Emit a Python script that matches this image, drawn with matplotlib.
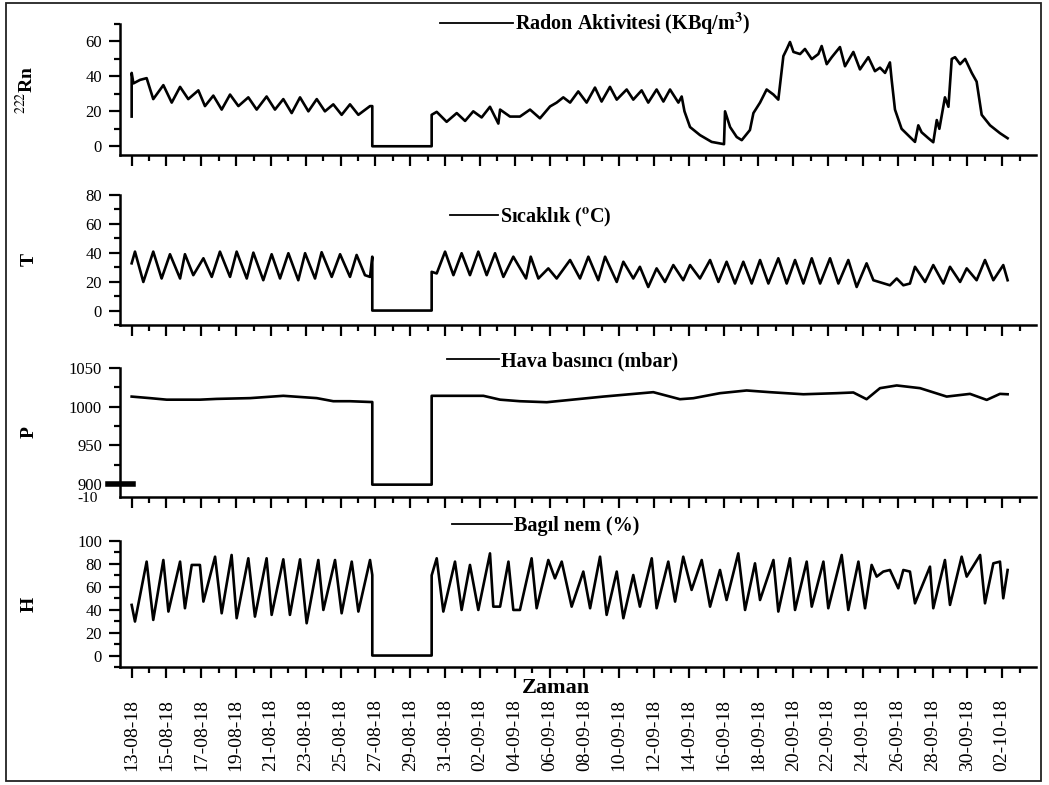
import matplotlib
matplotlib.use('Agg')
import matplotlib.pyplot as plt
import numpy as np
import pandas as pd
from matplotlib.ticker import MultipleLocator
from matplotlib.lines import Line2D
from matplotlib.patches import Rectangle
import matplotlib.transforms as mtransforms

plt.rcParams['font.family'] = 'Liberation Serif'
plt.rcParams['mathtext.fontset'] = 'stix'

# ---- data (days since 13-08-18) ----
start_date = '13-08-18'
tick_labels = ['13-08-18', '15-08-18', '17-08-18', '19-08-18', '21-08-18', '23-08-18',
               '25-08-18', '27-08-18', '29-08-18', '31-08-18', '02-09-18', '04-09-18',
               '06-09-18', '08-09-18', '10-09-18', '12-09-18', '14-09-18', '16-09-18',
               '18-09-18', '20-09-18', '22-09-18', '24-09-18', '26-09-18', '28-09-18',
               '30-09-18', '02-10-18']

rn_day = [0.00, 0.00, 0.10, 0.48, 0.86, 1.24, 1.82, 2.30, 2.78, 3.25, 3.83, 4.21, 4.69, 5.17,
          5.65, 6.13, 6.70, 7.18, 7.75, 8.23, 8.71, 9.19, 9.67, 10.15, 10.63, 11.10, 11.58,
          12.06, 12.54, 13.02, 13.69, 13.82, 13.82, 17.23, 17.23, 17.52, 18.09, 18.67, 19.15,
          19.62, 20.10, 20.58, 21.06, 21.16, 21.73, 22.30, 22.88, 23.45, 24.03, 24.41, 24.79,
          25.18, 25.65, 26.13, 26.61, 26.99, 27.47, 27.86, 28.43, 28.81, 29.29, 29.67, 30.15,
          30.54, 30.92, 31.40, 31.59, 31.75, 32.07, 32.64, 33.31, 34.02, 34.08, 34.37, 34.75,
          35.04, 35.51, 35.71, 36.09, 36.47, 36.86, 37.14, 37.43, 37.63, 37.81, 38.01, 38.39,
          38.67, 39.06, 39.44, 39.63, 39.92, 40.21, 40.68, 40.97, 41.45, 41.83, 42.31, 42.69,
          42.98, 43.27, 43.55, 43.65, 43.84, 44.22, 44.70, 44.99, 45.18, 45.37, 45.76, 46.04,
          46.24, 46.39, 46.71, 46.91, 47.10, 47.29, 47.58, 47.87, 48.25, 48.53, 48.82, 49.30,
          49.87, 50.31]
rn_val = [17, 42, 36, 38, 39, 27, 35, 25, 34, 27, 32, 23, 29, 21,
          29.6, 23, 28, 21, 28.5, 21, 27, 19, 28, 20, 27, 20, 24,
          18, 24, 18, 23, 23, 0, 0, 18, 19.7, 14, 19, 14.5,
          20, 16.5, 22.6, 13, 21, 17, 17, 21, 16, 22.8, 25, 28,
          25, 31.4, 25, 33.6, 25.6, 34, 26.7, 32.5, 26.7, 32, 25, 32.5,
          25.6, 32.5, 25, 28.5, 20, 11, 6.4, 2.5, 1.2, 20, 11, 5.3,
          3.5, 9.3, 19, 25, 32.5, 29.6, 26.7, 51.6, 55.7, 59.7, 54, 52.8,
          55.7, 49.9, 52.8, 57.4, 47, 51, 56.8, 45.8, 54, 44, 51, 43,
          45, 42, 48, 38, 21, 10, 5.3, 2.5, 12, 8, 4.6, 2.3,
          15, 10, 28, 22.6, 50, 51, 47, 50, 42, 37, 18, 12,
          7.5, 4.6]

t_day = [0.00, 0.19, 0.67, 1.24, 1.72, 2.20, 2.78, 3.06, 3.54, 4.12, 4.60, 5.07, 5.65, 6.03,
         6.61, 6.99, 7.56, 8.04, 8.52, 9.00, 9.57, 9.96, 10.53, 10.91, 11.49, 11.97, 12.54,
         12.92, 13.40, 13.69, 13.82, 13.82, 17.23, 17.23, 17.52, 18.00, 18.48, 18.95, 19.43,
         19.91, 20.39, 20.87, 21.35, 21.92, 22.65, 22.92, 23.36, 23.93, 24.41, 25.18, 25.75,
         26.23, 26.80, 27.19, 27.86, 28.24, 28.81, 29.19, 29.67, 30.15, 30.63, 31.11, 31.68,
         32.07, 32.64, 33.22, 33.70, 34.17, 34.65, 35.13, 35.61, 36.09, 36.57, 37.14, 37.62,
         38.10, 38.58, 39.06, 39.54, 40.11, 40.59, 41.16, 41.64, 42.21, 42.60, 43.55, 43.94,
         44.32, 44.70, 44.99, 45.57, 46.04, 46.62, 47.00, 47.58, 47.96, 48.53, 49.01, 49.49,
         50.06, 50.31]
t_val = [32.7, 40.8, 19.8, 40.8, 22.2, 39, 22.2, 39, 24.5, 36.2, 23.3, 40.8, 23.3, 40.8,
         22.2, 40.1, 21, 39, 22.2, 39.7, 21, 39.7, 22.2, 40.4, 23.3, 39, 23.3,
         38.5, 24.5, 23.3, 37.3, 0, 0, 26.8, 25.7, 40.8, 24.5, 39.7, 24.5,
         40.8, 24.5, 39.7, 23.3, 37.3, 22.2, 37.3, 22.2, 29.2, 22.2, 35, 22.2,
         37.3, 21, 37.3, 19.8, 33.8, 22.2, 30.3, 16.3, 29.2, 19.8, 31.5, 21,
         31.5, 22.2, 35, 19.8, 33.8, 18.7, 33.8, 18.7, 35, 18.7, 36.2, 18.7,
         35, 18.7, 36.2, 18.7, 36.2, 18.7, 35, 16.3, 32.7, 21, 17.5, 22.2,
         17.5, 18.7, 30.3, 19.8, 31.5, 18.7, 30.3, 19.8, 29.2, 21, 35, 21,
         31.5, 21]

p_day = [0.00, 1.05, 2.01, 3.92, 4.88, 6.80, 8.71, 10.63, 11.58, 12.54, 13.69, 13.82, 13.82,
         17.23, 17.23, 19.24, 20.20, 21.16, 22.30, 23.84, 25.18, 27.09, 29.96, 30.92, 31.49,
         32.26, 33.79, 35.32, 36.66, 38.58, 40.49, 41.45, 42.21, 42.98, 43.94, 45.28, 46.81,
         48.15, 49.11, 49.87, 50.31]
p_val = [1013, 1011, 1009, 1009, 1010, 1011, 1014, 1011, 1007, 1007, 1006, 1006, 899,
         899, 1014, 1014, 1014, 1009, 1007, 1005.7, 1008.7, 1013, 1018.7, 1013, 1009.6,
         1010.9, 1017.4, 1020.9, 1018.7, 1016, 1017.4, 1018.3, 1009.6, 1023.9, 1027.4, 1023.9, 1013,
         1016.5, 1008.7, 1016.5, 1016]

h_day = [0.00, 0.19, 0.86, 1.24, 1.82, 2.11, 2.78, 3.06, 3.45, 3.92, 4.12, 4.79, 5.17, 5.74,
         6.03, 6.70, 7.08, 7.75, 8.04, 8.71, 9.09, 9.67, 10.05, 10.72, 11.01, 11.68, 12.06,
         12.64, 13.02, 13.69, 13.82, 13.82, 17.23, 17.23, 17.52, 17.90, 18.57, 18.95, 19.43,
         19.91, 20.58, 20.77, 21.16, 21.64, 21.92, 22.30, 22.97, 23.26, 23.93, 24.31, 24.70,
         25.27, 25.94, 26.33, 26.90, 27.28, 27.86, 28.24, 28.81, 29.19, 29.87, 30.15, 30.82,
         31.21, 31.68, 32.16, 32.74, 33.22, 33.79, 34.17, 34.84, 35.23, 35.80, 36.09, 36.86,
         37.14, 37.81, 38.10, 38.77, 39.06, 39.73, 40.01, 40.78, 41.16, 41.74, 42.12, 42.50,
         42.79, 43.17, 43.55, 44.03, 44.32, 44.70, 44.99, 45.85, 46.04, 46.71, 47.00, 47.67,
         47.96, 48.73, 49.01, 49.49, 49.87, 50.06, 50.31]
h_val = [44.2, 29.7, 82, 31.1, 83.4, 38.4, 82, 41.3, 79.1, 79.1, 47.1, 86.3, 36.9, 87.8,
         32.6, 84.9, 34, 84.9, 35.5, 84, 35.5, 84, 28.2, 83.4, 39.8, 83.4, 36.9,
         82, 38.4, 83.4, 70.3, 0, 0, 70, 84.9, 38.4, 82, 39.8, 79.1,
         39.8, 89.2, 42.7, 42.7, 82, 39.8, 39.8, 84.9, 41.3, 83.4, 67.4, 82,
         42.7, 73.3, 41.3, 86.3, 35.5, 73.3, 32.6, 70.3, 42.7, 84.9, 41.3, 82,
         47.1, 86.3, 57.3, 83.4, 42.7, 74.7, 48.5, 89.2, 39.8, 80.5, 48.5, 83.4,
         38.4, 84.9, 39.8, 82, 42.7, 82, 41.3, 87.8, 39.8, 82, 41.3, 79.1,
         68.9, 73.3, 74.7, 58.7, 74.7, 73.3, 45.6, 77.6, 41.3, 83.4, 44.2, 86.3,
         68.9, 87.8, 45.6, 80.5, 82, 50, 74.7]

# ---- figure ----
fig = plt.figure(figsize=(10.49, 7.85), dpi=100)
W, H = 1049, 785
left, right = 120, 1036

panels = [
    dict(top=24, bot=155, x=rn_day, y=rn_val, ylim=(-5, 70), major=20, minor=10,
         ylabel=r'$^{222}$Rn', legend=r'Radon Aktivitesi (KBq/m$^{\mathbf{3}}$)',
         lx=440, ly=24, hl=3.6),
    dict(top=195, bot=325, x=t_day, y=t_val, ylim=(-10, 80), major=20, minor=10,
         ylabel='T', legend=r'Sıcaklık ($^{\mathbf{o}}$C)', lx=450, ly=217, hl=2.4),
    dict(top=368, bot=497, x=p_day, y=p_val, ylim=(883, 1050), major=50, minor=25,
         ylabel='P', legend='Hava basıncı (mbar)', lx=447, ly=361, hl=2.6),
    dict(top=541, bot=667, x=h_day, y=h_val, ylim=(-10, 100), major=20, minor=10,
         ylabel='H', legend='Bagıl nem (%)', lx=452, ly=526, hl=3.0),
]

day0 = pd.to_datetime(start_date, format='%d-%m-%y')
tick_pos = [(pd.to_datetime(s, format='%d-%m-%y') - day0).days for s in tick_labels]

axes = []
for i, p in enumerate(panels):
    ax = fig.add_axes([left / W, 1 - p['bot'] / H, (right - left) / W, (p['bot'] - p['top']) / H])
    ax.plot(p['x'], p['y'], color='black', lw=1.9, solid_joinstyle='round')
    ax.set_xlim(-0.67, 51.94)
    ax.set_ylim(*p['ylim'])
    for s in ['top', 'right']:
        ax.spines[s].set_visible(False)
    for s in ['left', 'bottom']:
        ax.spines[s].set_linewidth(1.8)
    ax.yaxis.set_major_locator(MultipleLocator(p['major']))
    ax.yaxis.set_minor_locator(MultipleLocator(p['minor']))
    ax.set_xticks(tick_pos)
    ax.xaxis.set_minor_locator(MultipleLocator(1))
    ax.tick_params(which='major', direction='out', length=8, width=1.6, labelsize=12, pad=5)
    ax.tick_params(which='minor', direction='out', length=4.5, width=1.6)
    ax.set_ylabel(p['ylabel'], fontsize=14, fontweight='bold')
    ax.yaxis.set_label_coords(-0.09, 0.5)
    if i < 3:
        ax.tick_params(axis='x', labelbottom=False)
    else:
        ax.set_xticklabels(tick_labels, rotation=90, fontsize=14)
        ax.tick_params(axis='x', pad=15)
    fy = (p['bot'] - p['ly']) / (p['bot'] - p['top'])
    fx = (p['lx'] - left) / (right - left)
    ax.legend([Line2D([], [], color='black', lw=1.3)], [p['legend']], loc='center left',
              bbox_to_anchor=(fx, fy), frameon=False, handlelength=p['hl'], handletextpad=0.1,
              borderpad=0, borderaxespad=0, prop={'weight': 'bold', 'size': 14.5})
    axes.append(ax)

# axis break marks on the pressure panel
axp = axes[2]
trans = mtransforms.blended_transform_factory(axp.transAxes, axp.transData)
axp.plot([-0.013, 0.014], [900, 900], color='black', lw=4, transform=trans, clip_on=False)
axp.text(-0.024, -0.015, '-10', transform=axp.transAxes, ha='right', va='center', fontsize=11)

fig.text(556 / W, 1 - 688 / H, 'Zaman', fontsize=16, fontweight='bold', ha='center', va='center')

fig.patches.append(Rectangle((6 / W, 1 - 781 / H), (1041 - 6) / W, (781 - 3) / H,
                             transform=fig.transFigure, fill=False, lw=1.3, ec='#222'))

fig.savefig('out.png', dpi=100)
